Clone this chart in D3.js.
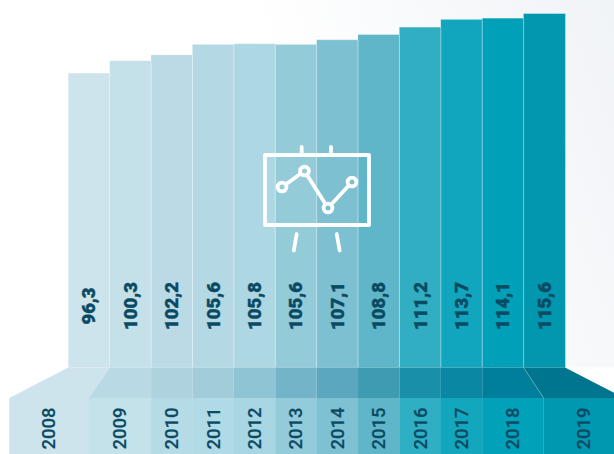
<!DOCTYPE html>
<html><head><meta charset="utf-8">
<script src="https://cdn.jsdelivr.net/npm/d3@7"></script>
<style>html,body{margin:0;padding:0;background:#fff;overflow:hidden}svg{display:block}</style>
</head><body><svg id="c" width="614" height="454"></svg>
<script>
const years = ["2008","2009","2010","2011","2012","2013","2014","2015","2016","2017","2018","2019"];
const values = [96.3,100.3,102.2,105.6,105.8,105.6,107.1,108.8,111.2,113.7,114.1,115.6];
const barColors = ["#cde4ec","#c4e0e9","#bbdae6","#b4d9e4","#aed7e4","#94cbd9","#7cc0d1","#60b6c9","#31aec2","#11a6bd","#00a0b8","#0097af"];
const foldColors = ["#cde4ec","#b9dae4","#aed3df","#a2ccda","#8fc4d4","#74b4c8","#5aa7bf","#3f9bb2","#1a8fa9","#0a88a3","#007f9c","#007590"];
const labelColors = ["#cde4ec","#c4e2ea","#b4dbe6","#b0dae6","#a8d6e3","#94cbda","#7dc1d2","#60b6c9","#2fafc3","#13a7bd","#00a1b9","#0098b0"];

const svg = d3.select("#c");
const fmt = v => d3.format(".1f")(v).replace(".", ",");
const ink = "#0b4a63";
const font = "Roboto, sans-serif";
const baseY = 367.5, foldY = 398, H = 454;

const defs = svg.append("defs");
const g = defs.append("linearGradient").attr("id","bg").attr("gradientUnits","userSpaceOnUse")
  .attr("x1",290).attr("y1",110).attr("x2",614).attr("y2",-20);
g.append("stop").attr("offset",0).attr("stop-color","#ffffff");
g.append("stop").attr("offset",1).attr("stop-color","#f0f3f7");
svg.append("rect").attr("width",614).attr("height",454).attr("fill","url(#bg)");
svg.append("rect").attr("y",baseY).attr("width",614).attr("height",H-baseY).attr("fill","#fff");

const x = d3.scaleBand().domain(years).range([68.3,565]).padding(0);
const y = d3.scaleLinear().domain([96.3,115.6]).range([73,13.5]);

// the ribbon fans out at both ends
const spread = i => i===0 ? -59 : i===1 ? -21 : i===11 ? 20 : i===12 ? 59 : 0;
const edge = i => x.bandwidth()*i + x.range()[0];
const lowEdge = i => edge(i) + spread(i);

// bars
svg.append("g").selectAll("rect").data(years).join("rect")
  .attr("x",d=>x(d)).attr("width",x.bandwidth()+0.3)
  .attr("y",(d,i)=>y(values[i])).attr("height",(d,i)=>baseY-y(values[i]))
  .attr("fill",(d,i)=>barColors[i]);
// top highlight
svg.append("g").selectAll("line").data(years).join("line")
  .attr("x1",d=>x(d)).attr("x2",d=>x(d)+x.bandwidth())
  .attr("y1",(d,i)=>y(values[i])).attr("y2",(d,i)=>y(values[i]))
  .attr("stroke","#fff").attr("stroke-opacity",0.35);
// separators between bars
svg.append("g").selectAll("line").data(years.slice(1)).join("line")
  .attr("x1",d=>x(d)).attr("x2",d=>x(d))
  .attr("y1",(d,i)=>Math.max(y(values[i]),y(values[i+1]))).attr("y2",baseY)
  .attr("stroke","#fff").attr("stroke-opacity",0.45);

// fold
svg.append("g").selectAll("path").data(years).join("path")
  .attr("d",(d,i)=>`M${edge(i)},${baseY}L${edge(i+1)},${baseY}L${lowEdge(i+1)},${foldY}L${lowEdge(i)},${foldY}Z`)
  .attr("fill",(d,i)=>foldColors[i]);
// lower label band
svg.append("g").selectAll("rect").data(years).join("rect")
  .attr("x",(d,i)=>lowEdge(i)).attr("width",(d,i)=>lowEdge(i+1)-lowEdge(i)+0.3)
  .attr("y",foldY).attr("height",H-foldY)
  .attr("fill",(d,i)=>labelColors[i]);
// thin light creases at the folded ends
svg.append("line").attr("x1",edge(11)).attr("y1",baseY).attr("x2",lowEdge(11)).attr("y2",foldY)
  .attr("stroke","#fff").attr("stroke-opacity",0.3).attr("stroke-width",0.7);
svg.append("line").attr("x1",lowEdge(11)).attr("y1",foldY).attr("x2",lowEdge(11)).attr("y2",H)
  .attr("stroke","#fff").attr("stroke-opacity",0.2).attr("stroke-width",0.7);

// value labels
svg.append("g").selectAll("text").data(values).join("text")
  .attr("transform",(d,i)=>`translate(${x(years[i])+x.bandwidth()/2+6.5},306) rotate(-90)`)
  .attr("text-anchor","middle").attr("font-family",font).attr("font-weight",900)
  .attr("font-size",18.5).attr("fill",ink).attr("stroke",ink).attr("stroke-width",0.4).text(fmt);
// year labels
svg.append("g").selectAll("text").data(years).join("text")
  .attr("transform",(d,i)=>`translate(${(lowEdge(i)+lowEdge(i+1))/2+6.5},428.5) rotate(-90)`)
  .attr("text-anchor","middle").attr("font-family",font).attr("font-weight",500)
  .attr("font-size",18.5).attr("fill",ink).attr("stroke",ink).attr("stroke-width",0.2).text(d=>d);

// easel icon
const icon = svg.append("g").attr("fill","none").attr("stroke","#fff").attr("stroke-width",3.8).attr("stroke-linecap","round");
icon.append("rect").attr("x",265).attr("y",155).attr("width",104).attr("height",70).attr("stroke-linejoin","round");
[[301.7,147,301.7,155],[331,147,331,155],[296.7,234,293.8,250.5],[336.7,234,339.7,250.5]].forEach(s=>
  icon.append("line").attr("x1",s[0]).attr("y1",s[1]).attr("x2",s[2]).attr("y2",s[3]));
const pts = [[282,187],[304.5,171],[328,208],[352,182]], r = 4.4;
pts.slice(1).forEach((p,i)=>{
  const a = pts[i], d = Math.hypot(p[0]-a[0],p[1]-a[1]), ux=(p[0]-a[0])/d, uy=(p[1]-a[1])/d;
  icon.append("line").attr("x1",a[0]+ux*r).attr("y1",a[1]+uy*r).attr("x2",p[0]-ux*r).attr("y2",p[1]-uy*r).attr("stroke-linecap","butt");
});
pts.forEach(p=>icon.append("circle").attr("cx",p[0]).attr("cy",p[1]).attr("r",r));
</script></body></html>
